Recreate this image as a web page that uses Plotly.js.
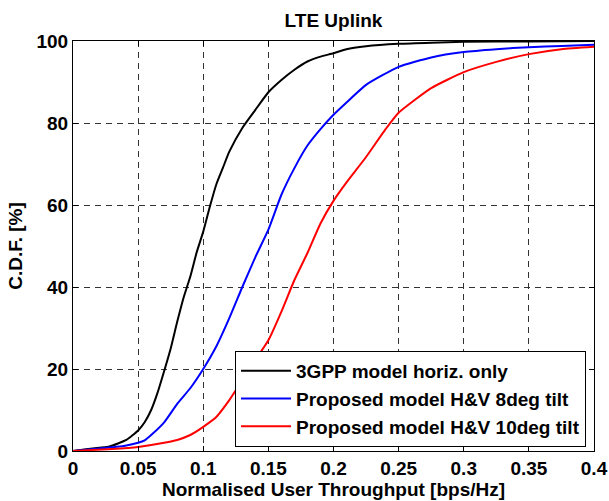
<!DOCTYPE html>
<html>
<head>
<meta charset="utf-8">
<script src="https://cdn.plot.ly/plotly-3.0.1.min.js"></script>
<style>html,body{margin:0;padding:0;background:#fff;}#chart{width:609px;height:501px;}</style>
</head>
<body>
<div id="chart"></div>
<script>
const seriesNames = ["3GPP model horiz. only", "Proposed model H&V 8deg tilt", "Proposed model H&V 10deg tilt"];

const x3gpp = [0, 0.01, 0.02, 0.028, 0.041, 0.05, 0.055, 0.06, 0.065, 0.07, 0.075, 0.08, 0.085, 0.09, 0.095, 0.1, 0.105, 0.11, 0.115, 0.12, 0.13, 0.14, 0.15, 0.16, 0.17, 0.18, 0.19, 0.2, 0.21, 0.225, 0.25, 0.275, 0.3, 0.35, 0.4];
const y3gpp = [0, 0.4, 0.8, 1.1, 2.7, 5, 7, 10, 14.3, 19.5, 25, 31.5, 37.5, 42.5, 48.5, 53.5, 59.5, 65, 69, 73, 78.8, 83.2, 87.5, 90.5, 93, 95, 96.2, 97, 98, 98.7, 99.3, 99.6, 99.8, 99.9, 100];

const x8deg = [0, 0.02, 0.04, 0.05, 0.055, 0.06, 0.07, 0.08, 0.09, 0.1, 0.11, 0.12, 0.13, 0.14, 0.15, 0.16, 0.17, 0.18, 0.19, 0.2, 0.21, 0.225, 0.25, 0.275, 0.3, 0.325, 0.35, 0.375, 0.4];
const y8deg = [0, 0.6, 1.3, 2, 2.6, 3.9, 7, 11.5, 15.3, 20, 25.5, 32.4, 40, 47.3, 54, 62.5, 69, 74.5, 78.5, 82, 85, 89.3, 93.7, 96, 97.3, 98, 98.5, 98.8, 99.1];

const x10deg = [0, 0.03, 0.05, 0.07, 0.08, 0.09, 0.1, 0.11, 0.12, 0.13, 0.14, 0.15, 0.16, 0.17, 0.18, 0.19, 0.2, 0.21, 0.225, 0.24, 0.25, 0.275, 0.3, 0.325, 0.35, 0.375, 0.4];
const y10deg = [0, 0.5, 1, 2, 2.7, 3.9, 5.9, 8.3, 12.4, 17.3, 22.2, 27, 34, 41.7, 48.3, 55.5, 61, 65.5, 71.7, 78.5, 82.5, 88.5, 92.4, 94.9, 96.8, 98, 98.6];

const xTicks = [0, 0.05, 0.1, 0.15, 0.2, 0.25, 0.3, 0.35, 0.4];
const xTickText = ["0", "0.05", "0.1", "0.15", "0.2", "0.25", "0.3", "0.35", "0.4"];
const yTicks = [0, 20, 40, 60, 80, 100];
const yTickText = ["0", "20", "40", "60", "80", "100"];

const colors = ["#000000", "#0000ff", "#ff0000"];
const FONT = "Liberation Sans, Arial, Helvetica, sans-serif";
const FS = 19;

const traces = [
  {x: x3gpp, y: y3gpp, name: seriesNames[0], mode: "lines", line: {color: colors[0], width: 2, shape: "spline", smoothing: 0.5}},
  {x: x8deg, y: y8deg, name: seriesNames[1], mode: "lines", line: {color: colors[1], width: 2, shape: "spline", smoothing: 0.5}},
  {x: x10deg, y: y10deg, name: seriesNames[2], mode: "lines", line: {color: colors[2], width: 2, shape: "spline", smoothing: 0.5}}
];

const axisCommon = {
  showline: true, mirror: "ticks", linecolor: "#000", linewidth: 1,
  ticks: "inside", ticklen: 5, tickcolor: "#000", tickwidth: 1,
  showgrid: true, gridcolor: "#333", gridwidth: 1, griddash: "6px,5px",
  zeroline: false, automargin: false,
  tickfont: {family: FONT, size: FS, color: "#000", weight: "bold"}
};

const layout = {
  width: 609, height: 501,
  margin: {l: 73, r: 15, t: 41, b: 50},
  paper_bgcolor: "#fff", plot_bgcolor: "#fff",
  font: {family: FONT, color: "#000"},
  title: {text: "LTE Uplink", font: {family: FONT, size: FS, color: "#000", weight: "bold"},
          x: 0.5, xref: "paper", y: 1 - 20/501, yref: "container", yanchor: "middle"},
  xaxis: Object.assign({}, axisCommon, {
    range: [0, 0.4], tickvals: xTicks, ticktext: xTickText,
    title: {text: "Normalised User Throughput [bps/Hz]", font: {family: FONT, size: FS, color: "#000", weight: "bold"}, standoff: 2}
  }),
  yaxis: Object.assign({}, axisCommon, {
    range: [0, 100], tickvals: yTicks, ticktext: yTickText,
    title: {text: "C.D.F. [%]", font: {family: FONT, size: FS, color: "#000", weight: "bold"}, standoff: 8}
  }),
  showlegend: true,
  legend: {
    x: 0.311, y: 0.01, xanchor: "left", yanchor: "bottom",
    bgcolor: "#fff", bordercolor: "#000", borderwidth: 1,
    font: {family: FONT, size: FS, color: "#000", weight: "bold"},
    itemwidth: 50, tracegroupgap: 0
  }
};

Plotly.newPlot("chart", traces, layout, {displayModeBar: false, staticPlot: true});
</script>
</body>
</html>
